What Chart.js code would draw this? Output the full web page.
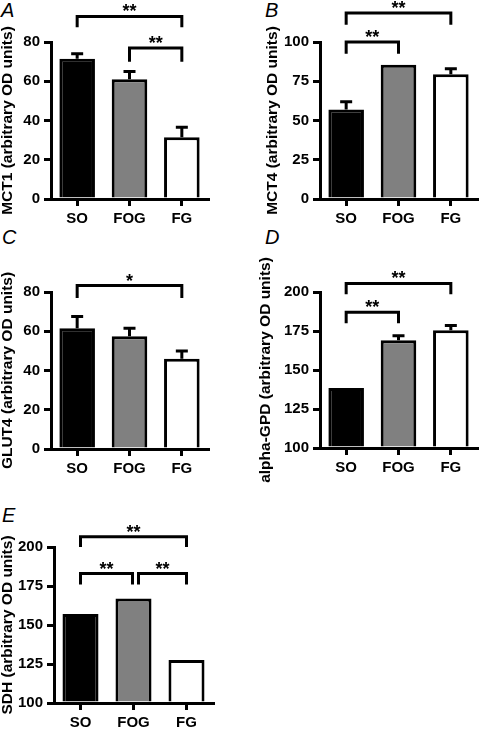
<!DOCTYPE html>
<html><head><meta charset="utf-8">
<script src="https://cdn.jsdelivr.net/npm/chart.js@4.4.1/dist/chart.umd.min.js"></script>
<style>
html,body{margin:0;padding:0;background:#fff;}
body{width:480px;height:731px;position:relative;overflow:hidden;font-family:"Liberation Sans",Arial,sans-serif;}
canvas{position:absolute;}
.lbl{position:absolute;font:italic 20px/20px "Liberation Sans",Arial,sans-serif;color:#000;}
</style></head><body>
<div class="lbl" style="left:1px;top:0px">A</div>
<div class="lbl" style="left:265px;top:0px">B</div>
<div class="lbl" style="left:2px;top:227px">C</div>
<div class="lbl" style="left:265px;top:227px">D</div>
<div class="lbl" style="left:2px;top:505px">E</div>
<canvas id="cA"></canvas>
<canvas id="cB"></canvas>
<canvas id="cC"></canvas>
<canvas id="cD"></canvas>
<canvas id="cE"></canvas>
<script>
// ---------- data ----------
const categories = ['SO', 'FOG', 'FG'];
const barColors = ['#000000', '#808080', '#ffffff'];

const mct1Values = [71.5, 61, 31.5];
const mct1Errors = [2.5, 4, 5];
const mct1Ticks  = [0, 20, 40, 60, 80];

const mct4Values = [57, 85.5, 79.5];
const mct4Errors = [5, 0, 3.5];
const mct4Ticks  = [0, 25, 50, 75, 100];

const glut4Values = [61.5, 57.5, 46];
const glut4Errors = [6, 4, 4];
const glut4Ticks  = [0, 20, 40, 60, 80];

const gpdValues = [138.5, 169, 175.5];
const gpdErrors = [0, 3, 3];
const gpdTicks  = [100, 125, 150, 175, 200];

const sdhValues = [157, 167, 127.5];
const sdhErrors = [0, 0, 0];
const sdhTicks  = [100, 125, 150, 175, 200];

// significance brackets (category indices, heights in data units)
const mct1Sig  = [{from:0, to:2, y:93, drop:87.5, text:'**'}, {from:1, to:2, y:77, drop:70, text:'**'}];
const mct4Sig  = [{from:0, to:2, y:118.5, drop:111, text:'**'}, {from:0, to:1, y:100, drop:92.5, text:'**'}];
const glut4Sig = [{from:0, to:2, y:83.3, drop:77, text:'*'}];
const gpdSig   = [{from:0, to:2, y:205.5, drop:198.5, text:'**'}, {from:0, to:1, y:187, drop:180, text:'**'}];
const sdhSig   = [{from:0, to:2, y:206.5, drop:200, text:'**'}, {from:0, to:1, y:183, drop:176, text:'**', dx2:-1}, {from:1, to:2, y:183, drop:176, text:'**', dx1:5}];

// ---------- layout ----------
const FONT = '"Liberation Sans", Arial, sans-serif';
Chart.defaults.font.family = FONT;
Chart.defaults.color = '#000';

const panels = [
  {id:'cA', title:'MCT1 (arbitrary OD units)', values:mct1Values, errors:mct1Errors, ticks:mct1Ticks, sig:mct1Sig,
   left:0, top:0, width:240, height:240, padTop:42, padRight:32, yWidth:51, xHeight:41},
  {id:'cB', title:'MCT4 (arbitrary OD units)', values:mct4Values, errors:mct4Errors, ticks:mct4Ticks, sig:mct4Sig,
   left:265, top:0, width:215, height:240, padTop:42, padRight:3, yWidth:55, xHeight:41},
  {id:'cC', title:'GLUT4 (arbitrary OD units)', values:glut4Values, errors:glut4Errors, ticks:glut4Ticks, sig:glut4Sig,
   left:0, top:225, width:240, height:260, padTop:67, padRight:32, yWidth:51, xHeight:36},
  {id:'cD', title:'alpha-GPD (arbitrary OD units)', values:gpdValues, errors:gpdErrors, ticks:gpdTicks, sig:gpdSig,
   left:258, top:225, width:222, height:260, padTop:67, padRight:3, yWidth:62, xHeight:37},
  {id:'cE', title:'SDH (arbitrary OD units)', values:sdhValues, errors:sdhErrors, ticks:sdhTicks, sig:sdhSig,
   left:0, top:480, width:240, height:251, padTop:67, padRight:27, yWidth:54, xHeight:28}
];

function errorBarPlugin(errors) {
  return {
    id: 'errorBars',
    afterDatasetsDraw(chart) {
      const ctx = chart.ctx, ys = chart.scales.y;
      const meta = chart.getDatasetMeta(0);
      const vals = chart.data.datasets[0].data;
      ctx.save();
      ctx.strokeStyle = '#000'; ctx.lineWidth = 3; ctx.lineCap = 'butt';
      meta.data.forEach((bar, i) => {
        const e = errors[i];
        if (!e) return;
        const y0 = ys.getPixelForValue(vals[i]);
        const y1 = ys.getPixelForValue(vals[i] + e);
        ctx.beginPath();
        ctx.moveTo(bar.x, y0); ctx.lineTo(bar.x, y1);
        ctx.moveTo(bar.x - 6, y1); ctx.lineTo(bar.x + 6, y1);
        ctx.stroke();
      });
      ctx.restore();
    }
  };
}

function bracketPlugin(items) {
  return {
    id: 'brackets',
    afterDraw(chart) {
      const ctx = chart.ctx, xs = chart.scales.x, ys = chart.scales.y;
      ctx.save();
      ctx.strokeStyle = '#000'; ctx.fillStyle = '#000';
      ctx.lineWidth = 3; ctx.lineJoin = 'miter'; ctx.lineCap = 'butt';
      ctx.font = 'bold 18px ' + FONT;
      ctx.textAlign = 'center'; ctx.textBaseline = 'alphabetic';
      items.forEach(b => {
        const x1 = xs.getPixelForValue(b.from) + (b.dx1 || 0);
        const x2 = xs.getPixelForValue(b.to) + (b.dx2 || 0);
        const yl = ys.getPixelForValue(b.y);
        const yd = ys.getPixelForValue(b.drop);
        ctx.beginPath();
        ctx.moveTo(x1, yd); ctx.lineTo(x1, yl); ctx.lineTo(x2, yl); ctx.lineTo(x2, yd);
        ctx.stroke();
        ctx.fillText(b.text, (x1 + x2) / 2, yl + 1);
      });
      ctx.restore();
    }
  };
}

panels.forEach(p => {
  const cv = document.getElementById(p.id);
  cv.width = p.width; cv.height = p.height;
  cv.style.left = p.left + 'px'; cv.style.top = p.top + 'px';
  cv.style.width = p.width + 'px'; cv.style.height = p.height + 'px';
  const tmin = p.ticks[0], tmax = p.ticks[p.ticks.length - 1];
  new Chart(cv, {
    type: 'bar',
    data: {
      labels: categories,
      datasets: [{
        data: p.values,
        backgroundColor: barColors,
        borderColor: '#000',
        borderWidth: 3,
        borderSkipped: 'start',
        categoryPercentage: 1,
        barPercentage: 0.68,
        base: tmin
      }]
    },
    options: {
      responsive: false,
      animation: false,
      devicePixelRatio: 1,
      layout: {padding: {top: p.padTop, right: p.padRight, left: 0, bottom: 0}},
      plugins: {legend: {display: false}, tooltip: {enabled: false}},
      scales: {
        x: {
          type: 'category',
          offset: true,
          z: 1,
          grid: {display: true, drawOnChartArea: false, drawTicks: true, offset: false,
                 tickLength: 7, lineWidth: 3, color: '#000'},
          border: {display: true, width: 3, color: '#000'},
          ticks: {font: {size: 15, weight: 'bold'}, color: '#000', padding: 4, maxRotation: 0, autoSkip: false},
          afterFit(s) { s.height = p.xHeight; }
        },
        y: {
          type: 'linear',
          min: tmin, max: tmax,
          beginAtZero: false,
          z: 1,
          grid: {display: true, drawOnChartArea: false, drawTicks: true,
                 tickLength: 7, lineWidth: 3, color: '#000'},
          border: {display: true, width: 3, color: '#000'},
          ticks: {font: {size: 15, weight: 'bold'}, color: '#000', padding: 4},
          afterBuildTicks(s) { s.ticks = p.ticks.map(v => ({value: v})); },
          title: {display: true, text: p.title, color: '#000', padding: 0,
                  font: {size: 15.5, weight: 'bold', lineHeight: 1}},
          afterFit(s) { s.width = p.yWidth; }
        }
      }
    },
    plugins: [errorBarPlugin(p.errors), bracketPlugin(p.sig)]
  });
});
</script>
</body></html>
